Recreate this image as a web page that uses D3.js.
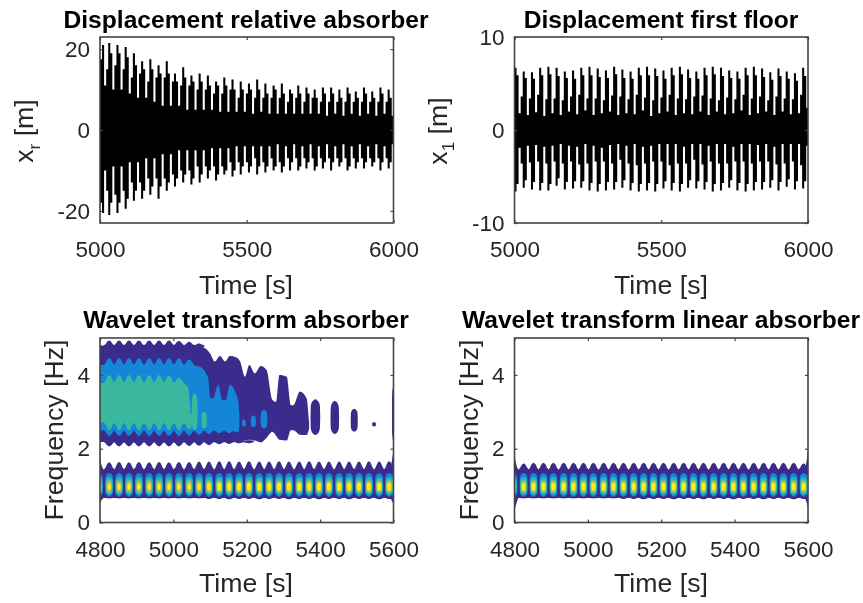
<!DOCTYPE html>
<html>

<head>
    <meta charset="utf-8" />
    <title>Wavelet panels</title>
    <script src="https://d3js.org/d3.v7.min.js" charset="utf-8"></script>

    <style type="text/css">
        body {
            margin: 0;
            background: #fff;
        }

        svg {
            display: block;
            font-family: "Liberation Sans", Arial, sans-serif;
            filter: blur(0.35px);
        }

        .box {
            fill: none;
            stroke: #444;
            stroke-width: 1.6px;
        }

        .tick line {
            stroke: #444;
            stroke-width: 1.2px;
        }

        .tick text {
            font-size: 22.5px;
            fill: #262626;
        }

        .label {
            font-size: 26.7px;
            fill: #262626;
            text-anchor: middle;
        }

        .title {
            font-size: 24.6px;
            font-weight: bold;
            fill: #000;
            text-anchor: middle;
        }
    </style>
</head>

<body>

    <div id="chart"></div>

    <script>
        // Time samples for the two displacement panels (one beat is about 4 samples):
        var sampleTimes = [
            5000, 5007, 5014, 5021, 5028, 5035, 5042, 5049, 5056, 5063, 5070, 5077, 5084, 5091, 5098, 5105,
            5112, 5119, 5126, 5133, 5140, 5147, 5154, 5161, 5168, 5175, 5182, 5189, 5196, 5203, 5210, 5217,
            5224, 5231, 5238, 5245, 5252, 5259, 5266, 5273, 5280, 5287, 5294, 5301, 5308, 5315, 5322, 5329,
            5336, 5343, 5350, 5357, 5364, 5371, 5378, 5385, 5392, 5399, 5406, 5413, 5420, 5427, 5434, 5441,
            5448, 5455, 5462, 5469, 5476, 5483, 5490, 5497, 5504, 5511, 5518, 5525, 5532, 5539, 5546, 5553,
            5560, 5567, 5574, 5581, 5588, 5595, 5602, 5609, 5616, 5623, 5630, 5637, 5644, 5651, 5658, 5665,
            5672, 5679, 5686, 5693, 5700, 5707, 5714, 5721, 5728, 5735, 5742, 5749, 5756, 5763, 5770, 5777,
            5784, 5791, 5798, 5805, 5812, 5819, 5826, 5833, 5840, 5847, 5854, 5861, 5868, 5875, 5882, 5889,
            5896, 5903, 5910, 5917, 5924, 5931, 5938, 5945, 5952, 5959, 5966, 5973, 5980, 5987, 5994, 6000
        ]

        // Envelope of the relative absorber displacement:
        var absorberUpper = [
            17.5, 21, 11, 15, 21.5, 19, 10, 16, 21, 19, 10, 15, 20.5, 18, 9, 13,
            19, 16, 8, 14, 17, 15, 8, 12, 17.5, 15, 7, 13, 16, 14, 6, 13,
            17, 14, 6, 12, 14, 12, 6, 11, 15.5, 13, 5, 11, 13.5, 12, 5, 10,
            14, 12, 5, 10, 13.5, 11, 5, 9, 12, 11, 4.5, 9, 13, 11, 4.5, 10,
            12.5, 10, 4.5, 8, 12, 10, 4.5, 9, 11.5, 10, 4, 8, 12.5, 10, 4.5, 8,
            11.5, 9, 4, 8, 11, 10, 4, 8, 11.5, 9, 4, 7, 10, 9, 4, 8,
            11, 9, 4, 7, 10.5, 9, 4, 8, 10, 8, 4, 7, 10.5, 9, 3.5, 7,
            10.5, 9, 4, 7, 10, 8, 3.5, 7, 10.5, 9, 4, 7, 9.5, 8, 3.5, 7,
            10.5, 9, 4, 7, 9.5, 8, 3.5, 7, 10.5, 9, 4, 7, 10, 8, 3.5, 9.5
        ]
        var absorberLower = [
            -18, -20.5, -10, -15, -21, -18, -9, -16, -20.5, -18, -9, -15, -19.5, -17, -8, -13,
            -17.5, -15, -8, -13, -17, -15, -7, -12, -16, -14, -7, -12, -17, -14, -6, -12,
            -15, -13, -6, -11, -14, -12, -5, -10, -13, -11, -5, -10, -13.5, -12, -5, -9,
            -13, -11, -5, -9, -12, -10, -4.5, -9, -12.5, -11, -4.5, -9, -11, -10, -4.5, -8,
            -11.5, -10, -4, -8, -11, -9, -4, -8, -10.5, -9, -4, -7, -11, -9, -4, -8,
            -10.5, -9, -4, -7, -10, -9, -3.5, -8, -10.5, -9, -4, -7, -10, -8, -3.5, -7,
            -10, -9, -4, -7, -9.5, -8, -3.5, -7, -10, -9, -4, -7, -9.5, -8, -3.5, -7,
            -10, -8, -4, -7, -9, -8, -3.5, -7, -10, -9, -4, -7, -9.5, -8, -3.5, -7,
            -9.5, -8, -4, -7, -9, -8, -3.5, -7, -10, -8, -4, -7, -9.5, -8, -3.5, -8.5
        ]

        // Envelope of the first floor displacement:
        var floorUpper = [
            6.7, 5.9, 1.8, 3.6, 6.3, 5.6, 1.6, 3.4, 6.2, 5.5, 1.9, 3.8, 6.7, 5.9, 1.5, 3.3,
            6.8, 6, 1.8, 3.4, 6.7, 5.8, 1.6, 3.2, 6.3, 5.6, 2, 3.6, 6.4, 5.5, 1.7, 3.8,
            6.7, 5.9, 2.1, 3.4, 6.8, 5.9, 1.6, 3.4, 6.6, 5.7, 1.8, 3.2, 6.4, 5.6, 2, 3.7,
            6.8, 6, 1.6, 3.6, 6.5, 5.6, 1.8, 3.3, 6.3, 5.5, 1.7, 3.8, 6.7, 5.9, 2.1, 3.5,
            6.8, 5.9, 1.5, 3.2, 6.6, 5.8, 1.8, 3.5, 6.4, 5.5, 2, 3.8, 6.7, 5.9, 1.6, 3.4,
            6.8, 6, 1.8, 3.3, 6.5, 5.6, 1.7, 3.6, 6.3, 5.5, 2, 3.7, 6.7, 5.9, 1.6, 3.4,
            6.8, 6, 2, 3.2, 6.7, 5.8, 1.7, 3.5, 6.4, 5.6, 1.8, 3.3, 6.3, 5.5, 2.1, 3.8,
            6.7, 5.9, 1.6, 3.4, 6.8, 5.9, 1.8, 3.6, 6.6, 5.7, 2, 3.2, 6.2, 5.4, 1.6, 3.6,
            6.6, 5.8, 2, 3.4, 6.3, 5.5, 1.7, 3.3, 6.1, 5.3, 1.8, 3.8, 6.7, 5.8, 2.4, 2.2
        ]
        var floorLower = [
            -6.6, -5.8, -1.9, -3.6, -6.2, -5.4, -1.7, -3.5, -6.4, -5.6, -1.6, -3.4, -6.5, -5.7, -1.8, -3.6,
            -6.5, -5.8, -1.7, -3.4, -6, -5.2, -1.5, -3.6, -6.4, -5.6, -1.7, -3.4, -6.3, -5.5, -1.8, -3.7,
            -6.2, -5.5, -1.5, -3.6, -6.5, -5.7, -1.7, -3.4, -6.6, -5.8, -1.9, -3.4, -6.5, -5.6, -1.6, -3.6,
            -6.4, -5.6, -1.5, -3.2, -6.2, -5.4, -1.7, -3.6, -6.5, -5.7, -1.5, -3.8, -6.6, -5.8, -1.8, -3.6,
            -6.5, -5.7, -1.7, -3.4, -6.6, -5.8, -1.5, -3.4, -6.3, -5.5, -1.5, -3.8, -6.5, -5.7, -1.5, -3.6,
            -6.6, -5.8, -1.8, -3.6, -6.2, -5.4, -1.5, -3.2, -6.3, -5.5, -1.5, -3.7, -6.4, -5.6, -1.7, -3.4,
            -6.6, -5.8, -1.5, -3.6, -6.5, -5.7, -1.5, -3.6, -6.2, -5.4, -1.8, -3.4, -6.5, -5.7, -1.5, -3.4,
            -6.6, -5.8, -1.5, -3.6, -6.5, -5.6, -1.6, -3.4, -6.4, -5.6, -1.5, -3.4, -6.2, -5.4, -1.8, -3.7,
            -6.5, -5.6, -1.5, -3.6, -6.1, -5.3, -1.5, -3.4, -6.4, -5.5, -1.5, -3.8, -6.3, -5.5, -1.7, -3.6
        ]

        // Wavelet: centres of the beads along the 1 Hz ridge, edge beads included (seconds):
        var beadTimes = [
            4797, 4825, 4852, 4879, 4906, 4934, 4961, 4988, 5015, 5043, 5070, 5097, 5125, 5152, 5179, 5206,
            5234, 5261, 5288, 5315, 5343, 5370, 5397, 5424, 5452, 5479, 5506, 5533, 5561, 5588, 5604
        ]
        // Size of the hot core of each bead, left and right wavelet panels:
        var beadCoreAbsorber = [
            0.6, 0.78, 0.78, 0.78, 0.78, 0.78, 0.78, 0.78, 0.78, 0.78, 0.82, 0.92, 1, 1, 1, 1,
            1, 1, 1, 1, 1, 1, 1, 1, 1, 1, 1, 1, 1, 1, 0.6
        ]
        var beadCoreLinear = [
            0.7, 0.95, 1, 1, 1, 1, 1, 1, 1, 1, 1, 1, 1, 1, 1, 1,
            1, 1, 1, 1, 1, 1, 1, 1, 1, 1, 1, 1, 1, 0.95, 0.6
        ]

        // Bead contour levels: half width (s), upper and lower frequency (Hz)
        var beadLevelColors = ["#1486d8", "#14b2c6", "#3fba9c", "#a3bd6b", "#edba45", "#f9f60f"]
        var beadLevelWidth = [10.8, 9.6, 8.4, 7.3, 6.3, 4.8]
        var beadLevelTop = [1.34, 1.25, 1.19, 1.14, 1.1, 1.07]
        var beadLevelBottom = [0.7, 0.74, 0.78, 0.81, 0.84, 0.87]
        var coreLevels = [4, 5]

        // Dark band around the 1 Hz ridge, flat base between the crests:
        var ridgeTimes = [4800, 4803, 4812, 5576, 5590, 5596, 5600]
        var ridgeTopAbsorber = [2.05, 1.6, 1.43, 1.43, 1.45, 1.7, 1.95]
        var ridgeBottomAbsorber = [0.52, 0.58, 0.67, 0.67, 0.67, 0.58, 0.5]
        var ridgeTopLinear = [2, 1.66, 1.43, 1.43, 1.45, 1.66, 1.95]
        var ridgeBottomLinear = [0.34, 0.44, 0.67, 0.67, 0.67, 0.55, 0.42]

        // Crests of the ridge, one per bead:
        var crestTimes = [
            4825, 4852, 4879, 4906, 4934, 4961, 4988, 5015, 5043, 5070, 5097, 5125, 5152, 5179, 5206,
            5234, 5261, 5288, 5315, 5343, 5370, 5397, 5424, 5452, 5479, 5506, 5533, 5561, 5588
        ]
        var crestAbsorber = [
            1.63, 1.64, 1.63, 1.64, 1.63, 1.64, 1.63, 1.64, 1.64, 1.65, 1.65, 1.66, 1.66, 1.65, 1.66,
            1.65, 1.65, 1.66, 1.65, 1.65, 1.66, 1.65, 1.65, 1.65, 1.65, 1.65, 1.66, 1.65, 1.66
        ]
        var crestLinear = [
            1.6, 1.62, 1.62, 1.62, 1.62, 1.62, 1.62, 1.62, 1.62, 1.62, 1.62, 1.62, 1.62, 1.62, 1.62,
            1.62, 1.62, 1.62, 1.62, 1.62, 1.62, 1.62, 1.62, 1.62, 1.62, 1.62, 1.62, 1.62, 1.6
        ]
        var ridgeTroughs = [
            0.65, 0.65, 0.65, 0.65, 0.65, 0.65, 0.65, 0.65, 0.65, 0.65, 0.64, 0.64, 0.63, 0.64, 0.64,
            0.63, 0.64, 0.64, 0.63, 0.64, 0.64, 0.63, 0.64, 0.64, 0.63, 0.64, 0.64, 0.63, 0.64
        ]

        // Upper wavelet band, dark level:
        var darkTimes = [
            4800, 5056, 5086, 5100, 5113, 5127, 5141, 5154, 5172, 5182, 5195, 5207, 5222,
            5238, 5254, 5270, 5280, 5289, 5309, 5320, 5327, 5345, 5363, 5370
        ]
        var darkTop = [
            4.8, 4.8, 4.72, 4.58, 4.36, 4.51, 4.36, 4.51, 4.47, 4.36, 3.95, 4.27, 4.04,
            4.24, 4.13, 3.32, 3.27, 4, 3.95, 3.18, 3.18, 3.55, 3.37, 2.7
        ]
        var darkBottom = [
            2.18, 2.18, 2.18, 2.18, 2.18, 2.18, 2.2, 2.2, 2.2, 2.2, 2.22, 2.24, 2.22,
            2.17, 2.3, 2.46, 2.35, 2.24, 2.22, 2.5, 2.5, 2.38, 2.37, 2.55
        ]
        var darkTopCrests = [4.93, 4.93, 4.93, 4.93, 4.93, 4.93, 4.93, 4.92, 4.9, 4.85]
        var darkBottomCrests = [
            2.06, 2.06, 2.06, 2.06, 2.06, 2.06, 2.06, 2.06, 2.07, 2.08, 2.1, 2.12, 2.13, 2.15, 2.15
        ]

        // Upper wavelet band, blue level:
        var blueTimes = [
            4800, 5056, 5072, 5095, 5101, 5109, 5122, 5133, 5143, 5154, 5168, 5177, 5180
        ]
        var blueTop = [4.27, 4.25, 4.22, 3.91, 3.37, 3.37, 3.73, 3.32, 3.32, 3.73, 3.55, 3.28, 2.9]
        var blueBottom = [2.5, 2.5, 2.5, 2.5, 2.5, 2.5, 2.5, 2.5, 2.5, 2.5, 2.46, 2.44, 2.6]
        var blueTopCrests = [4.45, 4.45, 4.45, 4.45, 4.45, 4.45, 4.45, 4.45, 4.42]
        var blueBottomCrests = [2.35, 2.35, 2.35, 2.35, 2.35, 2.35, 2.35, 2.35, 2.36, 2.38, 2.4, 2.42, 2.42]

        // Upper wavelet band, teal level:
        var tealTimes = [4800, 5029, 5040, 5046]
        var tealTop = [3.78, 3.76, 3.66, 3.1]
        var tealBottom = [2.72, 2.72, 2.66, 2.62]
        var tealTopCrests = [4, 4, 4, 4, 4, 4, 3.98, 3.92]
        var tealBottomCrests = [2.5, 2.5, 2.5, 2.5, 2.5, 2.5, 2.5, 2.5, 2.52]

        // Detached blobs of the upper band: colour level, centre time, half width, top and bottom
        var blobLevels = ["dark", "dark", "dark", "dark", "dark", "blue", "blue", "blue", "teal", "teal"]
        var blobTimes = [5387, 5440, 5493, 5547, 5600, 5192, 5218, 5247, 5058, 5084]
        var blobWidths = [13, 11.5, 9.5, 5, 4, 5, 7, 9, 8, 7]
        var blobTops = [3.34, 3.29, 3.08, 2.72, 3.7, 2.79, 2.9, 3.05, 3.5, 3]
        var blobBottoms = [2.37, 2.4, 2.46, 2.6, 2.2, 2.6, 2.58, 2.55, 2.5, 2.54]
        var blobColors = { dark: "#3a2c8c", blue: "#1486d8", teal: "#3ab89e" }

        // Half width of one crest (s):
        var crestWidth = 13.8

        // Unit outlines of a contour blob and of a crest (tapered towards its tip):
        var outlineX = [0, 0.8, 1, 1, 0.8, 0, -0.8, -1, -1, -0.8]
        var outlineY = [1, 0.8, 0.25, -0.25, -0.8, -1, -0.8, -0.25, 0.25, 0.8]
        var crestX = [0, 0.35, 0.7, 1, 1, -1, -1, -0.7, -0.35]
        var crestY = [1, 0.8, 0.3, 0, -1, -1, 0, 0.3, 0.8]

        var timeTicks = [5000, 5500, 6000]
        var waveletTicks = [4800, 5000, 5200, 5400, 5600]
        var frequencyTicks = [0, 2, 4]

        // Define panel dimensions:
        var panelWidth = 293.5,
            topHeight = 186,
            bottomHeight = 184.5,
            leftX = 100,
            rightX = 514.5,
            topY = 37,
            bottomY = 338

        var svg = d3.select("#chart")
            .append("svg")
            .attr("width", 863)
            .attr("height", 603)

        // Create one panel with its box, axes and labels:
        function makePanel(id, left, top, height, xDomain, xTicks, yDomain, yTicks, labelPadX, labelPadY) {
            var xScale = d3.scaleLinear().domain(xDomain).range([0, panelWidth])
            var yScale = d3.scaleLinear().domain(yDomain).range([height, 0])

            var g = svg.append("g")
                .attr("transform", "translate(" + left + ", " + top + ")")

            g.append("clipPath")
                .attr("id", id)
                .append("rect")
                .attr("width", panelWidth)
                .attr("height", height)

            var marks = g.append("g").attr("clip-path", "url(#" + id + ")")

            // Plain numbers with an ASCII minus, as in the picture:
            var plain = function(d) {
                return String(d)
            }

            var finish = function() {
                g.append("g")
                    .attr("transform", "translate(0, " + height + ")")
                    .call(d3.axisBottom(xScale).tickValues(xTicks).tickFormat(plain).tickSizeInner(-3).tickSizeOuter(0).tickPadding(labelPadX))
                g.append("g")
                    .call(d3.axisLeft(yScale).tickValues(yTicks).tickFormat(plain).tickSizeInner(-3).tickSizeOuter(0).tickPadding(labelPadY))
                g.append("g")
                    .call(d3.axisTop(xScale).tickValues(xTicks).tickSizeInner(-3).tickSizeOuter(0).tickFormat(""))
                g.append("g")
                    .attr("transform", "translate(" + panelWidth + ", 0)")
                    .call(d3.axisRight(yScale).tickValues(yTicks).tickSizeInner(-3).tickSizeOuter(0).tickFormat(""))
                g.selectAll(".domain").remove()
                g.append("rect")
                    .attr("class", "box")
                    .attr("width", panelWidth)
                    .attr("height", height)
            }

            return { x: xScale, y: yScale, marks: marks, finish: finish }
        }

        // Displacement envelope as a solid black area, steps keep the spikes sharp:
        function drawEnvelope(panel, upper, lower) {
            var envelope = d3.area()
                .curve(d3.curveStepAfter)
                .x(function(d, i) { return panel.x(sampleTimes[i]) })
                .y0(function(d, i) { return panel.y(lower[i]) })
                .y1(function(d, i) { return panel.y(upper[i]) })

            panel.marks.append("path")
                .datum(upper)
                .attr("d", envelope)
                .attr("fill", "#000")
        }

        // One contour level given by upper and lower edges:
        function drawBand(panel, times, tops, bottoms, color) {
            var band = d3.area()
                .curve(d3.curveMonotoneX)
                .x(function(d, i) { return panel.x(times[i]) })
                .y0(function(d, i) { return panel.y(bottoms[i]) })
                .y1(function(d, i) { return panel.y(tops[i]) })

            panel.marks.append("path")
                .datum(tops)
                .attr("d", band)
                .attr("fill", color)
        }

        // One closed contour around a centre:
        function drawBlob(panel, time, halfWidth, top, bottom, color, unitX, unitY) {
            var blob = d3.line()
                .curve(d3.curveCatmullRomClosed)
                .x(function(d, i) { return panel.x(time + unitX[i] * halfWidth) })
                .y(function(d, i) { return panel.y((top + bottom) / 2 + unitY[i] * (top - bottom) / 2) })

            panel.marks.append("path")
                .datum(unitX)
                .attr("d", blob)
                .attr("fill", color)
        }

        // Row of tapered crests rising from a flat band edge, the signed
        // height lets the same outline point up or down:
        function drawCrests(panel, peaks, base, color) {
            peaks.forEach(function(peak, i) {
                drawBlob(panel, crestTimes[i], crestWidth, peak, 2 * base - peak, color, crestX, crestY)
            })
        }

        // Ridge around 1 Hz with its row of beads:
        function drawRidge(panel, tops, bottoms, crests, cores) {
            drawBand(panel, ridgeTimes, tops, bottoms, blobColors.dark)
            drawCrests(panel, crests, 1.43, blobColors.dark)
            drawCrests(panel, ridgeTroughs, 0.67, blobColors.dark)

            beadLevelColors.forEach(function(color, level) {
                beadTimes.forEach(function(time, i) {
                    var isCore = coreLevels.indexOf(level) >= 0
                    var scale = isCore ? cores[i] : 1
                    var middle = (beadLevelTop[level] + beadLevelBottom[level]) / 2
                    var half = (beadLevelTop[level] - beadLevelBottom[level]) / 2 * scale
                    drawBlob(panel, time, beadLevelWidth[level] * scale, middle + half, middle - half, color, outlineX, outlineY)
                })
            })
        }

        // Text around a panel:
        function addTitle(text, x, y) {
            svg.append("text").attr("class", "title").attr("x", x).attr("y", y).text(text)
        }

        function addXLabel(x, y) {
            svg.append("text").attr("class", "label").attr("x", x).attr("y", y).text("Time [s]")
        }

        function addYLabel(x, y, base, sub, rest) {
            var label = svg.append("text")
                .attr("class", "label")
                .attr("transform", "translate(" + x + ", " + y + ") rotate(-90)")
            label.append("tspan").text(base)
            if (sub) {
                label.append("tspan").attr("dy", 7).style("font-size", "17px").text(sub)
                label.append("tspan").attr("dy", -7).text(rest)
            }
        }

        // Top left:
        var absorberPanel = makePanel("clipA", leftX, topY, topHeight, [5000, 6000], timeTicks, [-23, 23], [-20, 0, 20], 18, 10)
        drawEnvelope(absorberPanel, absorberUpper, absorberLower)
        absorberPanel.finish()

        // Top right:
        var floorPanel = makePanel("clipB", rightX, topY, topHeight, [5000, 6000], timeTicks, [-10, 10], [-10, 0, 10], 18, 10)
        drawEnvelope(floorPanel, floorUpper, floorLower)
        floorPanel.finish()

        // Bottom left:
        var waveletPanel = makePanel("clipC", leftX, bottomY, bottomHeight, [4800, 5600], waveletTicks, [0, 5], frequencyTicks, 19, 10)
        drawBand(waveletPanel, darkTimes, darkTop, darkBottom, blobColors.dark)
        drawCrests(waveletPanel, darkTopCrests, 4.8, blobColors.dark)
        drawCrests(waveletPanel, darkBottomCrests, 2.18, blobColors.dark)
        drawBand(waveletPanel, blueTimes, blueTop, blueBottom, blobColors.blue)
        drawCrests(waveletPanel, blueTopCrests, 4.27, blobColors.blue)
        drawCrests(waveletPanel, blueBottomCrests, 2.5, blobColors.blue)
        drawBand(waveletPanel, tealTimes, tealTop, tealBottom, blobColors.teal)
        drawCrests(waveletPanel, tealTopCrests, 3.78, blobColors.teal)
        drawCrests(waveletPanel, tealBottomCrests, 2.72, blobColors.teal)
        blobLevels.forEach(function(level, i) {
            drawBlob(waveletPanel, blobTimes[i], blobWidths[i], blobTops[i], blobBottoms[i], blobColors[level], outlineX, outlineY)
        })
        drawRidge(waveletPanel, ridgeTopAbsorber, ridgeBottomAbsorber, crestAbsorber, beadCoreAbsorber)
        waveletPanel.finish()

        // Bottom right:
        var linearPanel = makePanel("clipD", rightX, bottomY, bottomHeight, [4800, 5600], waveletTicks, [0, 5], frequencyTicks, 19, 10)
        drawRidge(linearPanel, ridgeTopLinear, ridgeBottomLinear, crestLinear, beadCoreLinear)
        linearPanel.finish()

        addTitle("Displacement relative absorber", 246, 28)
        addTitle("Displacement first floor", 661, 28)
        addTitle("Wavelet transform absorber", 246, 328)
        addTitle("Wavelet transform linear absorber", 661, 328)

        addXLabel(246, 294)
        addXLabel(661, 294)
        addXLabel(246, 592)
        addXLabel(661, 592)

        addYLabel(33, 131, "x", "r", " [m]")
        addYLabel(447, 131, "x", "1", " [m]")
        addYLabel(63, 430, "Frequency [Hz]")
        addYLabel(478, 430, "Frequency [Hz]")
    </script>

</body>

</html>
